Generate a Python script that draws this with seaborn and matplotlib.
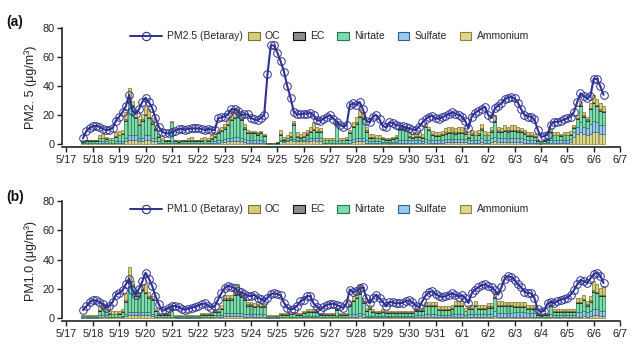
import numpy as np
import pandas as pd
import matplotlib
matplotlib.use("Agg")
import matplotlib.pyplot as plt
import seaborn as sns
from matplotlib.lines import Line2D
from matplotlib.patches import Patch

# ---------------- data (3-hourly, 5/17 15h ... 6/6 09h) ----------------
start_day = 0.625          # days after 5/17 00:00
step_day = 0.125           # 3 hours
day_labels = ["5/17", "5/18", "5/19", "5/20", "5/21", "5/22", "5/23", "5/24",
              "5/25", "5/26", "5/27", "5/28", "5/29", "5/30", "5/31", "6/1",
              "6/2", "6/3", "6/4", "6/5", "6/6", "6/7"]

pm25 = [4, 9, 11,
        12.4, 12.5, 12, 10.5, 9.7, 10, 11, 16,
        19, 22, 26, 34, 23, 21, 24, 29,
        32, 29, 25, 18, 12, 8.5, 7.5, 7.4,
        8, 9, 10.5, 10.5, 10, 10.5, 10.8, 10.8,
        10.8, 10.5, 9.7, 10.5, 10, 9.7, 17.7, 18.4,
        19, 20.5, 24, 24, 23, 20, 20.5, 20.5,
        18, 17, 16.5, 18, 20, 48, 68, 68,
        63, 57, 50, 40, 32, 22, 20.5, 20.5,
        21, 21, 21.5, 20, 16.5, 16, 17.5, 18.8,
        20, 17.5, 15.4, 13.5, 12, 13, 27, 28,
        27, 29, 24, 16, 15, 19, 20, 17,
        12.5, 11.5, 15, 14.5, 13, 12.8, 12.4, 11.5,
        10.8, 10, 9.7, 12, 15, 17, 19, 19.5,
        17.7, 17.5, 18.4, 19.5, 20.5, 22, 21, 20,
        18.9, 16, 10.8, 19, 21.5, 23, 24.5, 25.7,
        20, 18, 24.6, 26.5, 28, 31, 32, 32.5,
        31.5, 28.5, 24, 20, 19, 18.9, 17, 10,
        5, 5.5, 6.5, 13.5, 15.4, 15.4, 15.8, 17,
        17.7, 19, 22, 29, 35, 33, 31.5, 33,
        45, 45, 40, 34]

pm10 = [5.5, 8, 10.8,
        12.3, 12, 11, 9.5, 7, 8.5, 11, 16,
        17, 19, 23, 27, 19, 16, 20, 25,
        31, 27, 22, 15, 9.5, 5, 5.5, 7,
        8.3, 8.3, 7.6, 6.2, 5.8, 6.5, 7, 7.8,
        8.5, 9.5, 10, 8.5, 7, 8, 12.6, 17,
        20.5, 22, 21.5, 20.5, 18.5, 17.5, 16.5, 15.2,
        15, 16, 14, 13, 11.5, 14, 16.5, 16.8,
        16.5, 15.5, 10.5, 7, 5.7, 6.5, 8.5, 11.5,
        12.5, 15, 15, 10, 7.8, 5.7, 7.5, 9.2,
        9.5, 9.9, 9, 8, 6.9, 10, 19.5, 17.5,
        18.4, 20.5, 21, 14, 10, 13.5, 16, 13.5,
        11, 8, 11, 10.8, 10, 10.2, 10.3, 11.8,
        12, 10.8, 8.5, 7.5, 11.5, 15.5, 17.5, 18.4,
        16.5, 15, 14.5, 14.8, 16, 16.8, 16, 14.5,
        15.5, 14, 10.3, 17, 19.5, 21, 22.5, 23,
        21.8, 21, 19, 16, 21, 27, 28.7, 28,
        26, 23, 21, 18, 17, 17, 13.8, 6,
        4.2, 5, 10, 11, 10.3, 11.5, 12.6, 13.2,
        13.8, 16, 19, 23, 26, 25, 24, 27,
        30, 31, 29, 24]

# ---- PM2.5 components (a) ----
nh4_a = [0.5, 0.5, 0.5,
         0.5, 0.5, 1, 1, 1, 0.5, 0.5, 1,
         1, 1, 2, 3, 3, 3, 2, 2,
         3, 3, 2, 2, 1, 0.5, 0.5, 0.5,
         1, 0.5, 0.5, 0.5, 0.5, 0.5, 0.5, 0.5,
         0.5, 0.5, 0.5, 0.5, 1, 1, 1, 1.5,
         1.5, 2, 2, 2, 2, 2, 1.5, 1,
         1, 1, 1, 1, 1, 0.2, 0.2, 0.2,
         0.3, 2, 1.5, 2, 2.5, 2, 2, 2,
         2, 2, 2, 2.5, 2, 2, 0.5, 0.5,
         0.5, 0.5, 1, 0.5, 0.5, 0.5, 1, 1.5,
         2, 2, 2, 1, 1, 1, 1, 1,
         0.5, 0.5, 0.5, 0.5, 0.5, 1, 1, 1,
         1, 1, 1, 1, 1, 1.5, 1, 1,
         1, 1, 1, 1.5, 1.5, 1.5, 1.5, 1.5,
         1.5, 1.5, 1, 1, 1, 1, 1.5, 1,
         1, 1.5, 2, 1.5, 1.5, 1.5, 1.5, 1.5,
         1.5, 1.5, 1.5, 1, 1, 1, 1, 0.5,
         0.3, 0.5, 0.5, 1, 1, 1, 1, 1,
         1, 1.5, 5, 7, 8, 7, 6, 7,
         8, 8, 7, 7]
so4_a = [0.5, 0.5, 0.5,
         0.5, 0.5, 1, 1, 1, 0.5, 0.5, 1,
         1, 1, 2, 3, 3, 3, 2, 2,
         3, 3, 2, 2, 1, 0.5, 0.5, 0.5,
         1, 0.5, 0.5, 0.5, 0.5, 0.5, 0.5, 0.5,
         0.5, 0.5, 0.5, 0.5, 1, 1, 1.5, 1.5,
         2, 2, 2.5, 3, 3, 2.5, 2, 1.5,
         1.5, 1.5, 1.5, 1.5, 1, 0.2, 0.2, 0.2,
         0.3, 1, 0.5, 1, 1, 1.5, 1, 1,
         1, 1.5, 2, 2, 2, 2, 0.5, 0.5,
         0.5, 0.5, 1, 0.5, 0.5, 0.5, 1.5, 2,
         2, 2.5, 2.5, 1.5, 1, 1, 1, 1,
         1, 1, 1, 1, 1, 1.5, 1.5, 1.5,
         1.5, 1.5, 1.5, 1.5, 1, 2, 2, 1.5,
         1.5, 1.5, 2, 2, 2, 2, 2, 2,
         2, 2, 1.5, 2, 2, 2, 2.5, 2,
         2, 2.5, 3, 3, 3, 3, 3, 3,
         3, 3, 3, 2.5, 2, 2, 2, 0.5,
         0.5, 0.5, 1, 2, 2, 2, 2, 2,
         2, 2, 3, 5, 7, 5, 5, 7,
         8, 7, 6, 6]
no3_a = [0.5, 1, 1,
         1, 1, 2, 2, 1.5, 1.5, 1.5, 3,
         4, 5, 12, 23, 20, 12, 9, 12,
         14, 12, 10, 6, 3, 1.5, 1, 1,
         13, 1, 0.5, 1, 1, 1, 1, 1,
         1, 1, 1.5, 1, 1.5, 3, 5, 6,
         7, 9, 12, 13, 14, 12, 7, 5,
         5, 5, 4, 5, 3.5, 0.2, 0.2, 0.2,
         0.3, 3, 1, 1, 1.5, 10, 2, 1.5,
         2, 3, 4, 5, 4, 4, 1.5, 1.5,
         1.5, 1.5, 12, 1.5, 1.5, 2, 5, 8,
         10, 14, 13, 6, 2.5, 2.5, 2, 2,
         2, 1.5, 1.5, 2, 3, 8, 8, 7,
         2.5, 2, 2.5, 2.5, 2.5, 8, 6.5, 4,
         3, 3, 3.5, 3.5, 4, 4, 3.5, 4,
         4, 3.5, 2, 3.5, 3, 3.5, 6, 3,
         3, 4.5, 10, 4, 3.5, 4.5, 4, 4.5,
         4.5, 4, 3.5, 3.5, 2.5, 2.5, 2, 1,
         0.5, 1, 1.5, 5, 3, 3, 2.5, 3,
         3, 3, 3, 5, 11, 7, 5, 10,
         12, 11, 10, 9]
ec_a = [0.5, 0.5, 0.5,
        0.5, 0.5, 0.5, 0.5, 0.5, 0.5, 0.5, 0.5,
        0.5, 0.5, 1, 1, 1, 1, 1, 1,
        1, 1, 1, 1, 0.5, 0.5, 0.5, 0.5,
        0.5, 0.5, 0.5, 0.5, 0.5, 0.5, 0.5, 0.5,
        0.5, 0.5, 0.5, 0.5, 0.5, 0.5, 0.5, 1,
        1, 1, 1, 1, 1, 1, 1, 1,
        1, 1, 1, 1, 1, 0.2, 0.2, 0.2,
        0.3, 1, 0.5, 0.5, 0.5, 1, 0.5, 0.5,
        0.5, 1, 1, 1, 1, 1, 0.5, 0.5,
        0.5, 0.5, 1, 0.5, 0.5, 0.5, 1, 1,
        1, 1, 1, 1, 0.5, 0.5, 0.5, 0.5,
        0.5, 0.5, 0.5, 0.5, 0.5, 0.5, 0.5, 0.5,
        0.5, 0.5, 0.5, 0.5, 0.5, 1, 1, 0.5,
        0.5, 0.5, 0.5, 1, 1, 1, 1, 1,
        1, 1, 0.5, 1, 0.5, 1, 1, 0.5,
        0.5, 1, 1, 1, 1, 1, 1, 1,
        1, 1, 1, 1, 0.5, 0.5, 0.5, 0.5,
        0.2, 0.5, 0.5, 1, 0.5, 0.5, 0.5, 0.5,
        0.5, 0.5, 0.5, 1, 1, 1, 1, 1,
        1, 1, 1, 1]
oc_a = [0.5, 0.5, 0.5,
        0.5, 0.5, 1.5, 2.5, 1, 1, 1, 2.5,
        2.5, 2.5, 5, 9, 3, 4, 3, 4,
        5, 5, 3, 2, 1.5, 1, 0.5, 0.5,
        0.5, 0.5, 0.5, 0.5, 0.5, 1.5, 2.5, 0.5,
        0.5, 1.5, 2, 1.5, 2, 2.5, 2, 2,
        2.5, 3, 3.5, 6, 4, 2.5, 2.5, 1.5,
        0.5, 0.5, 0.5, 0.5, 0.5, 0.2, 0.2, 0.2,
        0.3, 3, 1.5, 1.5, 2.5, 1.5, 2.5, 2,
        2.5, 2.5, 3, 4.5, 3, 2, 1, 1,
        1, 1, 1, 1, 1, 1.5, 1.5, 2.5,
        4, 4.5, 3.5, 2.5, 2, 2, 1.5, 1.5,
        1, 0.5, 0.5, 1, 1, 1, 1, 1,
        2.5, 2, 2.5, 2.5, 2, 1.5, 1.5, 2,
        2, 2, 2, 3, 3.5, 3.5, 3, 3.5,
        3.5, 3, 2, 2.5, 2.5, 2.5, 3, 2.5,
        1.5, 2.5, 4, 2.5, 2, 3, 2.5, 3,
        3, 2.5, 2, 2, 2, 2, 1.5, 0.5,
        0.5, 0.5, 0.5, 2, 1.5, 1.5, 1, 1.5,
        1.5, 2, 1.5, 2, 3, 2, 2, 3,
        5, 4, 4, 3]

# ---- PM1.0 components (b) ----
nh4_b = [0.3, 0.3, 0.3,
         0.3, 0.3, 1, 1, 1, 0.5, 0.5, 0.5,
         0.5, 0.5, 1.5, 2, 2, 2, 2, 2,
         2, 2, 1.5, 1, 0.5, 0.5, 0.5, 0.5,
         0.5, 0.3, 0.3, 0.3, 0.3, 0.3, 0.3, 0.3,
         0.3, 0.5, 0.5, 0.5, 0.5, 1, 1, 1,
         1.5, 1.5, 1.5, 1.5, 1.5, 1.5, 1, 1,
         1, 1, 1, 1, 1, 0.3, 0.3, 0.3,
         0.3, 0.5, 0.5, 0.5, 0.5, 0.5, 0.5, 0.5,
         0.5, 0.5, 0.5, 0.5, 0.5, 0.5, 0.5, 0.5,
         0.5, 0.5, 0.5, 0.5, 0.5, 0.5, 1, 1,
         1, 1.5, 1, 0.5, 0.5, 0.5, 0.5, 0.5,
         0.5, 0.5, 0.5, 0.5, 0.5, 0.5, 0.5, 0.5,
         0.5, 0.5, 0.5, 0.5, 0.5, 1, 1, 1,
         1, 0.5, 0.5, 0.5, 0.5, 1, 1, 1,
         1, 0.5, 1, 1, 1, 1, 1, 1,
         1, 1, 1.5, 1, 1, 1, 1, 1,
         1, 1, 1, 1, 1, 1, 1, 0.5,
         0.5, 0.5, 0.5, 1, 0.5, 0.5, 0.5, 0.5,
         0.5, 0.5, 0.5, 1, 1, 1.5, 1, 1.5,
         2, 2, 1.5, 1.5]
so4_b = [0.4, 0.4, 0.4,
         0.4, 0.4, 1, 1, 1, 0.5, 0.5, 0.5,
         0.5, 1, 1.5, 2, 2, 2, 2, 2,
         2, 2, 1.5, 1, 0.5, 0.5, 0.5, 0.5,
         0.5, 0.4, 0.4, 0.4, 0.4, 0.4, 0.4, 0.4,
         0.4, 0.5, 0.5, 0.5, 0.5, 1, 1, 1,
         2, 2, 2, 2, 2, 2, 2, 1.5,
         1.5, 1.5, 1.5, 1.5, 1.5, 0.4, 0.4, 0.4,
         0.4, 0.5, 0.5, 0.5, 0.5, 0.5, 0.5, 0.5,
         1, 1, 1, 1, 1, 0.5, 0.5, 0.5,
         0.5, 0.5, 1, 0.5, 0.5, 0.5, 1.5, 1.5,
         1.5, 2, 1.5, 1, 1, 1, 1, 1,
         1, 1, 1, 1, 1, 1, 1, 1,
         1, 1, 1.5, 1.5, 1.5, 2, 2, 2,
         2, 1.5, 1.5, 1.5, 1.5, 1.5, 2, 2,
         2, 1.5, 1.5, 1.5, 2, 1.5, 1.5, 1.5,
         2, 2, 3, 2.5, 2.5, 2.5, 2.5, 2.5,
         3, 3, 3, 3, 2.5, 2.5, 2.5, 0.5,
         0.5, 0.5, 0.5, 2, 1.5, 1.5, 1.5, 1.5,
         1.5, 1.5, 1.5, 3, 3, 3.5, 3, 3.5,
         4, 4, 3.5, 3.5]
no3_b = [0.5, 0.5, 0.5,
         0.5, 0.5, 3, 4, 4, 2, 1.5, 1.5,
         2, 2.5, 8, 20, 18, 11, 11, 15,
         13, 10, 9, 3, 1, 1, 1, 1,
         5.5, 0.5, 0.5, 0.5, 0.5, 0.5, 0.5, 0.5,
         0.5, 1, 1, 1, 1, 2, 2, 4,
         9, 9, 9, 12, 13, 11, 9, 6,
         6, 5, 6, 5, 5, 0.5, 0.5, 0.5,
         0.5, 1, 1, 1, 1.5, 1.5, 1, 1,
         2, 2.5, 2.5, 2.5, 2.5, 1, 1, 1,
         1, 1, 4, 1, 1, 1, 6, 9,
         11, 13, 8, 3.5, 5, 2.5, 2, 2,
         2.5, 2, 2, 2, 2, 2, 2, 2,
         2, 2, 3, 3, 3, 5, 5, 5,
         5, 3.5, 3.5, 3.5, 3.5, 3.5, 5, 5,
         5, 2.5, 3.5, 3.5, 5, 3.5, 3.5, 3.5,
         4, 4, 9, 4.5, 4.5, 4.5, 4.5, 4.5,
         3.5, 3.5, 3.5, 3.5, 2.5, 2.5, 2.5, 1,
         1, 1, 1, 5, 2, 2, 2, 2,
         2, 2, 2, 6, 6, 7, 4.5, 6,
         12, 11, 10, 10]
ec_b = [0.4, 0.4, 0.4,
        0.4, 0.4, 0.5, 0.5, 0.5, 0.5, 0.5, 0.5,
        0.5, 0.5, 1, 1, 1, 1, 1, 1,
        1, 1, 1, 0.5, 0.5, 0.5, 0.5, 0.5,
        0.5, 0.4, 0.4, 0.4, 0.4, 0.4, 0.4, 0.4,
        0.4, 0.5, 0.5, 0.5, 0.5, 0.5, 0.5, 1,
        1, 1, 1, 1, 1, 1, 1, 1,
        1, 1, 1, 1, 1, 0.4, 0.4, 0.4,
        0.4, 0.5, 0.5, 0.5, 0.5, 0.5, 0.5, 0.5,
        0.5, 0.5, 0.5, 0.5, 0.5, 0.5, 0.5, 0.5,
        0.5, 0.5, 0.5, 0.5, 0.5, 0.5, 1, 1,
        1, 1, 1, 0.5, 0.5, 0.5, 0.5, 0.5,
        0.5, 0.5, 0.5, 0.5, 0.5, 0.5, 0.5, 0.5,
        0.5, 0.5, 0.5, 0.5, 0.5, 1, 1, 1,
        1, 1, 1, 1, 1, 1, 1, 1,
        1, 0.5, 1, 1, 1, 1, 1, 1,
        1, 1, 1, 1, 1, 1, 1, 1,
        1, 1, 1, 1, 1, 1, 1, 0.5,
        0.5, 0.5, 0.5, 1, 0.5, 0.5, 0.5, 0.5,
        0.5, 0.5, 0.5, 1, 1, 1, 1, 1,
        1, 1, 1, 1]
oc_b = [0.4, 0.4, 0.4,
        0.4, 0.4, 2.5, 3.5, 2.5, 1.5, 1.5, 1.5,
        1.5, 1.5, 5, 10, 2, 2, 2, 3,
        5, 3, 2, 1.5, 1, 1, 1, 1,
        0.5, 0.4, 0.4, 0.4, 0.4, 0.4, 0.4, 0.4,
        0.4, 1, 1, 1, 1, 1.5, 1.5, 2,
        2.5, 2.5, 2.5, 3.5, 5.5, 2.5, 2, 1.5,
        1.5, 1.5, 1.5, 1.5, 1.5, 0.4, 0.4, 0.4,
        0.4, 1, 1, 1, 1, 1, 1, 1,
        1, 1.5, 1.5, 1.5, 1.5, 1, 1, 1,
        1, 1, 1, 1, 1, 1, 2, 2.5,
        2.5, 5.5, 2.5, 1.5, 2, 1.5, 1, 1,
        1.5, 1, 1, 1, 1, 1, 1, 1,
        1, 1, 1.5, 1.5, 1.5, 2, 2, 2,
        2, 2, 2, 2, 2, 2, 2.5, 2.5,
        2.5, 2, 2, 2, 2.5, 2, 2, 2,
        2, 2, 3.5, 2.5, 2.5, 2, 2, 2,
        2.5, 2.5, 2.5, 2.5, 2, 2, 2, 1,
        0.5, 1, 1, 2.5, 1.5, 1.5, 1.5, 1.5,
        1.5, 1.5, 1.5, 3, 3, 3, 2, 3,
        6, 5, 4.5, 6]

# ---------------- styling ----------------
sns.set_theme(style="ticks")
plt.rcParams["font.family"] = ["Liberation Sans", "DejaVu Sans"]

navy = "#2e3192"
comp_names = ["OC", "EC", "Nirtate", "Sulfate", "Ammonium"]
comp_face = {"OC": "#d6cd7c", "EC": "#8e8e8e", "Nirtate": "#7ddbae",
             "Sulfate": "#9dcbea", "Ammonium": "#dcd690"}
comp_edge = {"OC": "#7d7230", "EC": "#111111", "Nirtate": "#1f7a4e",
             "Sulfate": "#2f5f8e", "Ammonium": "#8c8538"}

n = len(pm25)
t = start_day + step_day * np.arange(n)

fig = plt.figure(figsize=(6.4, 3.52), dpi=100)
ax_a = fig.add_axes([0.0969, 0.5824, 0.8719, 0.338])
ax_b = fig.add_axes([0.0969, 0.0881, 0.8719, 0.341])

panels = [
    (ax_a, pm25, "PM2.5 (Betaray)", "PM2. 5 (μg/m³)", "(a)",
     {"Ammonium": nh4_a, "Sulfate": so4_a, "Nirtate": no3_a, "EC": ec_a, "OC": oc_a}),
    (ax_b, pm10, "PM1.0 (Betaray)", "PM1.0 (μg/m³)", "(b)",
     {"Ammonium": nh4_b, "Sulfate": so4_b, "Nirtate": no3_b, "EC": ec_b, "OC": oc_b}),
]

for ax, line_vals, line_name, ylab, tag, comps in panels:
    bottom = np.zeros(n)
    for name in ["Ammonium", "Sulfate", "Nirtate", "EC", "OC"]:
        vals = np.asarray(comps[name], dtype=float)
        ax.bar(t, vals, width=0.112, bottom=bottom, color=comp_face[name],
               edgecolor=comp_edge[name], linewidth=0.5, zorder=2)
        bottom = bottom + vals
    df = pd.DataFrame({"t": t, "v": line_vals})
    sns.lineplot(data=df, x="t", y="v", ax=ax, color=navy, lw=1.5,
                 marker="o", markersize=5.5, markerfacecolor="none",
                 markeredgecolor=navy, markeredgewidth=0.7, zorder=3)

    ax.set_xlim(-0.17, 21.0)
    ax.set_ylim(-2, 80)
    ax.set_yticks([0, 20, 40, 60, 80])
    ax.set_xticks(np.arange(len(day_labels)))
    ax.set_xticklabels(day_labels)
    ax.set_xlabel("")
    ax.set_ylabel(ylab, fontsize=9, color="#222222", labelpad=4)
    ax.tick_params(axis="both", labelsize=7.8, colors="#222222",
                   length=3.5, width=1.0, direction="out", pad=2)
    for s in ["top", "right"]:
        ax.spines[s].set_visible(False)
    for s in ["left", "bottom"]:
        ax.spines[s].set_linewidth(1.2)
        ax.spines[s].set_color("#222222")
    ax.spines["left"].set_bounds(0, 80)

    h_line = [Line2D([], [], color=navy, lw=1.4, marker="o", markersize=6,
                     markerfacecolor="none", markeredgecolor=navy,
                     markeredgewidth=0.8)]
    leg1 = ax.legend(h_line, [line_name], loc="center left",
                     bbox_to_anchor=(0.115, 0.93), frameon=False, fontsize=7.5,
                     handlelength=3.0, handletextpad=0.5, borderaxespad=0)
    ax.add_artist(leg1)
    h_p = [Patch(facecolor=comp_face[c], edgecolor=comp_edge[c], linewidth=0.8)
           for c in comp_names]
    ax.legend(h_p, comp_names, loc="center left", bbox_to_anchor=(0.326, 0.93),
              frameon=False, fontsize=7.5, ncol=5, handlelength=1.1,
              handleheight=0.8, handletextpad=0.5, columnspacing=1.25,
              borderaxespad=0)

    fig.text(0.01, 0.925 if tag == "(a)" else 0.43, tag, fontsize=10,
             fontweight="bold", color="#111111")

fig.savefig("out.png", dpi=100)
